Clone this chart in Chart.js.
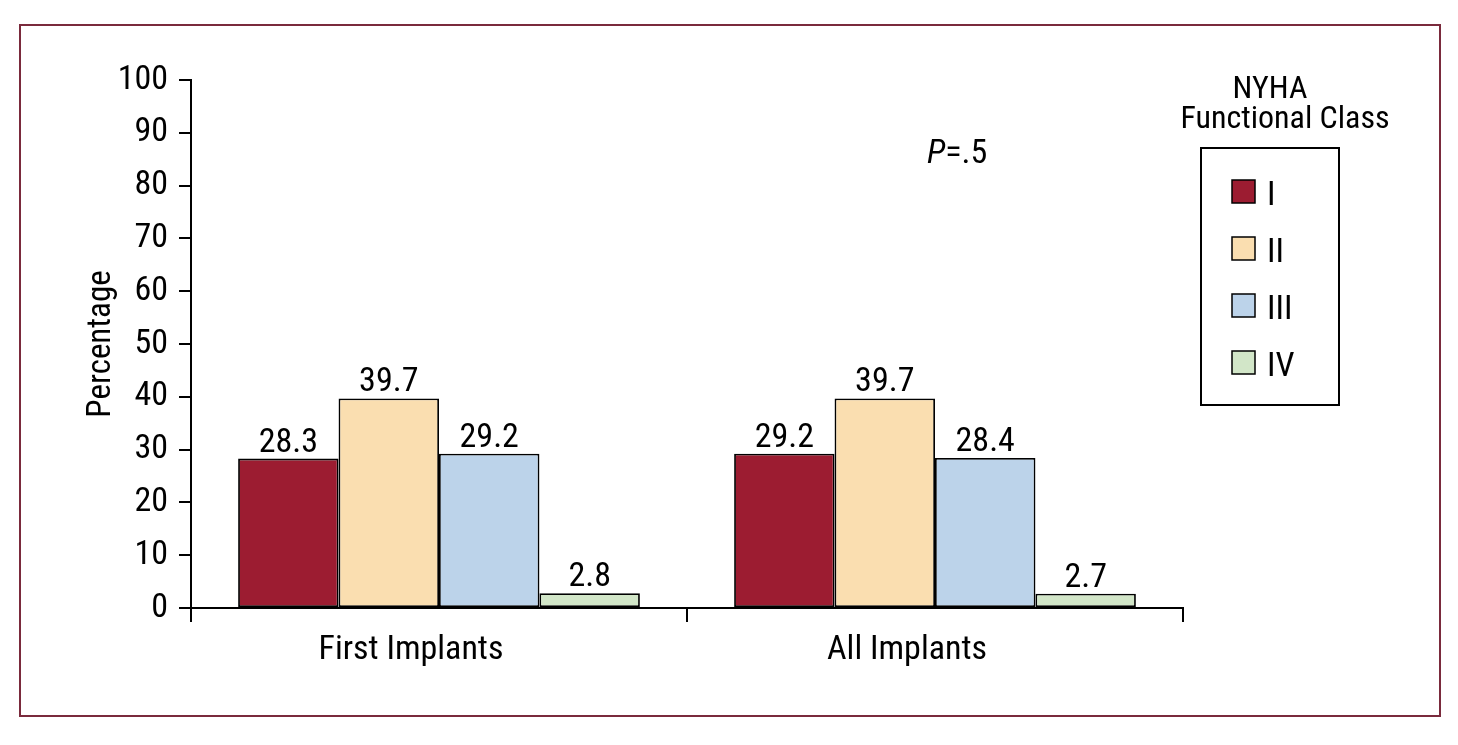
<!DOCTYPE html>
<html>
<head>
<meta charset="utf-8">
<script src="https://cdn.jsdelivr.net/npm/chart.js@4.4.0/dist/chart.umd.min.js"></script>
<style>
  html, body { margin: 0; padding: 0; background: #fff; }
  #wrap { position: relative; width: 1458px; height: 745px; }
  #frame { position: absolute; left: 19px; top: 24px; width: 1418px; height: 689px; border: 2px solid #7a2a3c; }
  canvas { position: absolute; left: 0; top: 0; }
</style>
</head>
<body>
<div id="wrap">
  <div id="frame"></div>
  <canvas id="grafico" width="1458" height="745"></canvas>
</div>
<script>
const categorias = ['First Implants', 'All Implants']
const clases = ['I', 'II', 'III', 'IV']
const claseI = [28.3, 29.2]
const claseII = [39.7, 39.7]
const claseIII = [29.2, 28.4]
const claseIV = [2.8, 2.7]
const colores = ['#9c1c31', '#fadeb0', '#bcd3ea', '#d2e6c8']

const fuente = "'Roboto Condensed', 'DejaVu Sans Condensed', sans-serif"

// etiquetas de valor sobre cada barra
const etiquetas = {
  id: 'etiquetas',
  afterDatasetsDraw(chart) {
    const ctx = chart.ctx
    ctx.save()
    ctx.font = '34px ' + fuente
    ctx.fillStyle = '#000'
    ctx.textAlign = 'center'
    ctx.textBaseline = 'alphabetic'
    chart.data.datasets.forEach((ds, i) => {
      chart.getDatasetMeta(i).data.forEach((bar, j) => {
        ctx.fillText(ds.data[j].toFixed(1), bar.x, bar.y - 7)
      })
    })
    ctx.restore()
  }
}

// leyenda con recuadro y texto P
const leyenda = {
  id: 'leyenda',
  afterDraw(chart) {
    const ctx = chart.ctx
    ctx.save()
    ctx.fillStyle = '#000'
    ctx.textBaseline = 'alphabetic'
    ctx.textAlign = 'center'
    ctx.font = '32px ' + fuente
    ctx.fillText('NYHA', 1270, 98)
    ctx.fillText('Functional Class', 1285, 128)

    ctx.strokeStyle = '#000'
    ctx.lineWidth = 2
    ctx.strokeRect(1201, 148, 138, 257)

    ctx.font = '34px ' + fuente
    ctx.textAlign = 'left'
    chart.data.datasets.forEach((ds, i) => {
      const y = 192 + i * 57
      ctx.fillStyle = ds.backgroundColor
      ctx.fillRect(1232, y - 12, 23, 23)
      ctx.lineWidth = 1.5
      ctx.strokeRect(1232, y - 12, 23, 23)
      ctx.fillStyle = '#000'
      ctx.fillText(ds.label, 1267, y + 13)
    })

    ctx.font = 'italic 34px ' + fuente
    ctx.fillText('P', 927, 163)
    const w = ctx.measureText('P').width
    ctx.font = '34px ' + fuente
    ctx.fillText('=.5', 927 + w, 163)
    ctx.restore()
  }
}

const datos = [claseI, claseII, claseIII, claseIV]
const datasets = clases.map((c, i) => ({
  label: c,
  data: datos[i],
  backgroundColor: colores[i],
  borderColor: '#000',
  borderWidth: 1.8,
  borderSkipped: false,
  categoryPercentage: 0.81,
  barPercentage: 1
}))

const config = {
  type: 'bar',
  data: { labels: categorias, datasets: datasets },
  options: {
    responsive: false,
    animation: false,
    devicePixelRatio: 1,
    layout: { padding: { left: 0, top: 80, right: 275, bottom: 0 } },
    plugins: { legend: { display: false }, tooltip: { enabled: false } },
    scales: {
      x: {
        grid: { offset: true, drawOnChartArea: false, color: '#000', lineWidth: 2, tickLength: 14 },
        border: { display: true, color: '#000', width: 2 },
        ticks: { color: '#000', font: { family: fuente, size: 34 }, padding: 8, labelOffset: -28 },
        afterFit(scale) { scale.height = 137 }
      },
      y: {
        min: 0,
        max: 100,
        grid: { drawOnChartArea: false, color: '#000', lineWidth: 2, tickLength: 12 },
        border: { display: true, color: '#000', width: 2 },
        ticks: { stepSize: 10, color: '#000', font: { family: fuente, size: 34 }, padding: 11 },
        title: { display: true, text: 'Percentage', color: '#000', font: { family: fuente, size: 33 }, padding: { top: 82, bottom: 0 } },
        afterFit(scale) { scale.width = 191 }
      }
    }
  },
  plugins: [etiquetas, leyenda]
}

new Chart(document.getElementById('grafico'), config)
</script>
</body>
</html>
